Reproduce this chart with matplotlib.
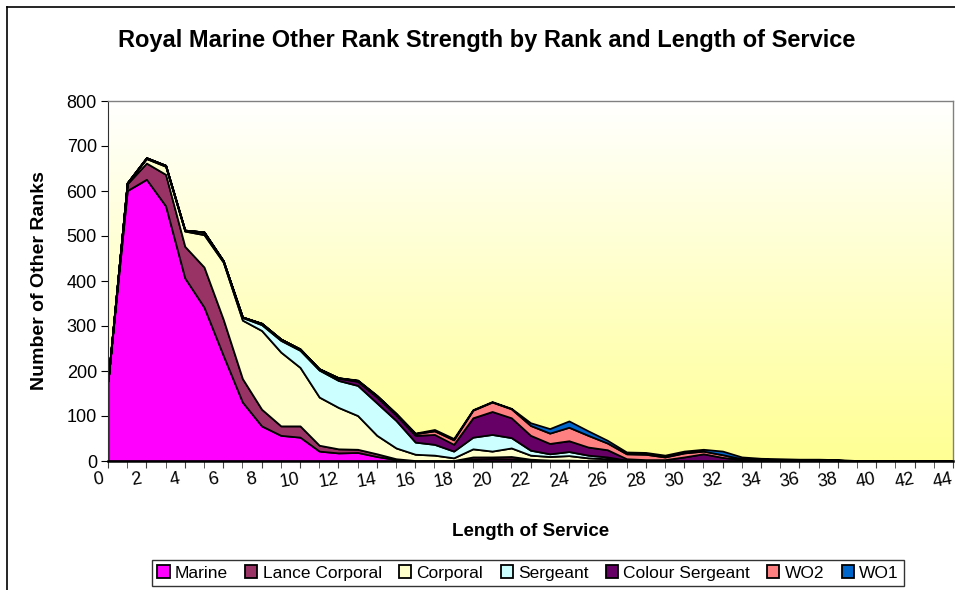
import matplotlib
matplotlib.use("Agg")
import matplotlib.pyplot as plt
import matplotlib.transforms as mtransforms
from matplotlib.lines import Line2D
import numpy as np

plt.rcParams['font.family'] = ['Liberation Sans', 'DejaVu Sans']

# length of service (years) 0..44
years = list(range(45))

marine = [178, 601, 626, 567, 407, 342, 235, 131, 78, 57, 53, 22, 18, 19, 10, 3,
          0, 0, 0, 4, 5, 5, 2, 0, 0] + [0] * 20
lance_corporal = [0, 15, 36, 70, 70, 89, 80, 52, 37, 21, 25, 13, 9, 7, 6, 2,
                  1, 1, 1, 5, 4, 5, 2, 2, 2, 1, 1] + [0] * 18
corporal = [0, 2, 10, 18, 34, 72, 127, 130, 175, 164, 130, 107, 92, 75, 41, 24,
            14, 12, 6, 18, 13, 19, 9, 8, 10, 6, 4, 1] + [0] * 17
sergeant = [0, 0, 1, 2, 2, 5, 3, 6, 13, 26, 38, 60, 60, 67, 72, 61,
            27, 24, 15, 26, 37, 23, 11, 6, 9, 6, 4, 1] + [0] * 17
colour_sergeant = [0, 0, 1, 0, 0, 1, 0, 1, 3, 3, 3, 2, 5, 9, 13, 12,
                   15, 22, 15, 43, 51, 44, 33, 23, 24, 18, 16, 3, 3, 3, 9, 16,
                   8, 3, 2, 2, 1, 1, 1, 0, 0, 0, 0, 0, 0]
wo2 = [0] * 11 + [1, 1, 2, 3, 3, 4, 8, 10, 17, 21, 20, 22, 23, 30, 26, 15, 11,
                  12, 6, 9, 6, 6, 2, 2, 1, 1, 1, 1, 0, 0, 0, 0, 0, 0]
wo1 = [0] * 13 + [1, 1, 1, 1, 3, 3, 1, 1, 1, 6, 10, 14, 10, 6, 4, 4, 4, 4, 4,
                  8, 4, 2, 2, 2, 2, 1, 1, 0, 0, 0, 0, 0]

names = ['Marine', 'Lance Corporal', 'Corporal', 'Sergeant', 'Colour Sergeant', 'WO2', 'WO1']
colors = ['#FF00FF', '#993366', '#FFFFCC', '#CCFFFF', '#660066', '#FF8080', '#0066CC']

fig = plt.figure(figsize=(9.55, 5.9), dpi=100)
ax = fig.add_axes([108 / 955, 1 - 461 / 590, 845 / 955, 360 / 590])

# background gradient, white at top to pale yellow at the bottom
t = np.linspace(0, 1, 256)[:, None]
grad = np.dstack([np.ones_like(t), np.ones_like(t), 1 - 0.42 * t])
ax.imshow(grad, extent=[0, 44, 0, 800], aspect='auto', origin='upper', zorder=0)

polys = ax.stackplot(years, marine, lance_corporal, corporal, sergeant,
                     colour_sergeant, wo2, wo1, colors=colors, labels=names,
                     edgecolor='black', linewidth=1.3, zorder=2)

ax.set_xlim(0, 44)
ax.set_ylim(0, 800)
ax.set_yticks(range(0, 801, 100))
ax.set_xticks(range(0, 45, 2))
ax.set_xticks(range(1, 45, 2), minor=True)
ax.tick_params(axis='y', direction='out', length=5, labelsize=13, pad=3)
ax.tick_params(axis='x', which='both', direction='out', length=5, labelsize=13,
               pad=2, color='#404040')
ax.tick_params(axis='x', which='minor', labelbottom=False)

offset = mtransforms.ScaledTranslation(-10 / 100, 0, fig.dpi_scale_trans)
for lab in ax.get_xticklabels():
    lab.set_rotation(10)
    lab.set_transform(lab.get_transform() + offset)

for side in ['top', 'right']:
    ax.spines[side].set_color('#808080')
    ax.spines[side].set_linewidth(1)
ax.spines['left'].set_color('#303030')
ax.spines['bottom'].set_linewidth(1.8)

ax.set_xlabel('Length of Service', fontsize=13.5, fontweight='bold')
ax.xaxis.set_label_coords(0.5, -0.172)
ax.set_ylabel('Number of Other Ranks', fontsize=14, fontweight='bold')
ax.yaxis.set_label_coords(-0.071, 0.5)

fig.text(487 / 955, 1 - 40 / 590, 'Royal Marine Other Rank Strength by Rank and Length of Service',
         ha='center', va='center', fontsize=17, fontweight='bold')

leg = fig.legend(loc='center', bbox_to_anchor=(528 / 955, 1 - 573 / 590), ncol=7,
                 fontsize=12.5, frameon=True, fancybox=False, edgecolor='black',
                 handlelength=0.7, handleheight=0.7, handletextpad=0.3,
                 columnspacing=1.0, borderpad=0.3, borderaxespad=0)
leg.get_frame().set_linewidth(1)

# outer chart border (left and top edges visible)
fig.add_artist(Line2D([7 / 955, 7 / 955], [0, 1 - 7 / 590], color='black', lw=1.2,
                      transform=fig.transFigure))
fig.add_artist(Line2D([7 / 955, 1], [1 - 7 / 590, 1 - 7 / 590], color='black', lw=1.2,
                      transform=fig.transFigure))

fig.savefig('out.png', dpi=100)
